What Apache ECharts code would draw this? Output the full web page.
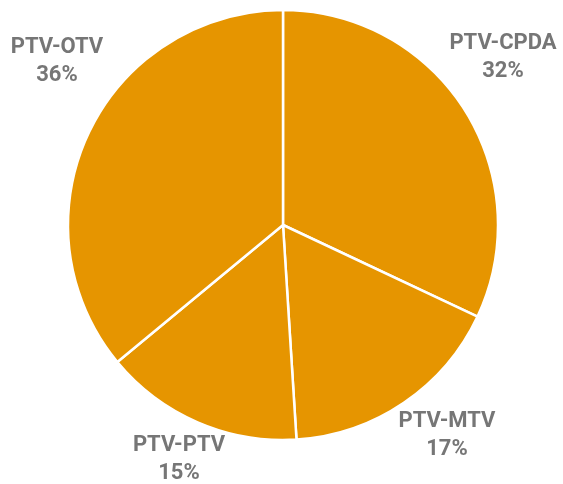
<!DOCTYPE html>
<html>
<head>
<meta charset="UTF-8">
<title>PTV pie</title>
<script type="text/javascript" src="https://cdn.jsdelivr.net/npm/echarts@6/dist/echarts.min.js"></script>
<style>
  html, body { margin: 0; padding: 0; background: #fff; }
</style>
</head>
<body>
	<div id="div1" style="width:563px;height:484px"></div>
	<script type="text/javascript">
	// slices, clockwise from 12 o'clock
	var names = ['PTV-CPDA', 'PTV-MTV', 'PTV-PTV', 'PTV-OTV'];
	var values = [32, 17, 15, 36];

	var pieData = [];
	for (var i = 0; i < names.length; i++) {
	    pieData.push({ name: names[i], value: values[i] });
	}

	// where the labels were dragged to in the original (px, block centre)
	var labelSpots = [[503, 57], [447, 435], [179, 459], [57, 61]];

	var myChart = echarts.init(document.getElementById('div1'));
	var option = {
	    animation: false,
	    series: [
	        {
	            name: 'share',
	            type: 'pie',
	            center: [283, 225],
	            radius: 215,
	            startAngle: 90,
	            clockwise: true,
	            data: pieData,
	            itemStyle: {
	                color: '#e69500',
	                borderColor: '#ffffff',
	                borderWidth: 2.5
	            },
	            labelLine: { show: false },
	            label: {
	                show: true,
	                position: 'inside',
	                formatter: '{b}\n{d}%',
	                color: '#767676',
	                fontFamily: 'Roboto, sans-serif',
	                fontWeight: 'bold',
	                fontSize: 22,
	                lineHeight: 28,
	                align: 'center'
	            },
	            labelLayout: function (params) {
	                var p = labelSpots[params.dataIndex];
	                return {
	                    x: p[0],
	                    y: p[1],
	                    align: 'center',
	                    verticalAlign: 'middle'
	                };
	            },
	            emphasis: { disabled: true }
	        }
	    ]
	};
	myChart.setOption(option);
	</script>
</body>
</html>
